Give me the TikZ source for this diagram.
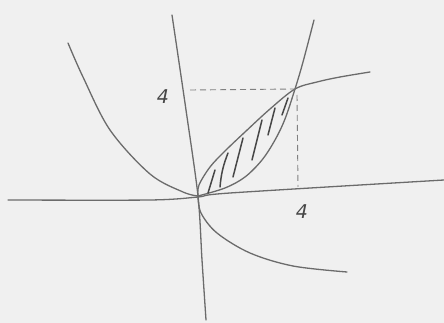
\documentclass[tikz,border=0pt]{standalone}
\usepackage{fontspec}
\setmainfont{DejaVu Sans}
\begin{document}
\begin{tikzpicture}[x=1pt,y=-1pt,
  curve/.style={draw=black!58,line width=1.3pt,line cap=round},
  axis/.style={draw=black!58,line width=1.3pt,line cap=round},
  guide/.style={draw=black!50,line width=0.9pt,dash pattern=on 6pt off 4pt},
  hatch/.style={draw=black!72,line width=1.5pt,line cap=round},
  lbl/.style={font=\fontsize{19}{19}\selectfont\itshape,text=black!72,inner sep=0pt}]
\fill[black!6] (0,0) rectangle (444,323);
\useasboundingbox (0,0) rectangle (444,323);
% key points
\coordinate (O) at (198,196);
\coordinate (P) at (295,89);
% axes
\draw[axis] plot[smooth,tension=0.5] coordinates {(172,15) (186,110) (198,196) (202,260) (206,320)};
\draw[axis] plot[smooth,tension=0.5] coordinates {(8,200) (150,200) (198,197) (230,193) (444,180)};
% upward parabola
\draw[curve] plot[smooth,tension=0.55] coordinates {(68,43) (83,77) (110,130) (150,174) (183,192) (198,196)};
\draw[curve] plot[smooth,tension=0.55] coordinates {(198,196) (225,188) (245,177) (262,160) (275,140) (285,119) (295,89) (303,62) (314,20)};
% sideways parabola
\draw[curve] plot[smooth,tension=0.55] coordinates {(198,196) (199,185) (210,167) (225,151) (245,132) (270,109) (295,89) (317,82) (340,77) (370,72)};
\draw[curve] plot[smooth,tension=0.55] coordinates {(198,196) (201,213) (217,233) (250,253) (293,266) (347,272)};
% dashed guides
\coordinate (yd) at (190,90);
\coordinate (xd) at (298,187);
\coordinate (Pv) at (297,95);
\draw[guide] (yd) -- (P);
\draw[guide] (Pv) -- (xd);
% hatching
\draw[hatch] (208,193) -- (215,170);
\draw[hatch] (220,187) to[bend left=8] (228,153);
\draw[hatch] (233,177) -- (243,138);
\draw[hatch] (252,160) -- (262,120);
\draw[hatch] (268,135) -- (275,108);
\draw[hatch] (282,115) -- (288,98);
% labels
\node[lbl] (l1) at (163,97) {4};
\node[lbl] (l2) at (302,212) {4};
\end{tikzpicture}
\end{document}
